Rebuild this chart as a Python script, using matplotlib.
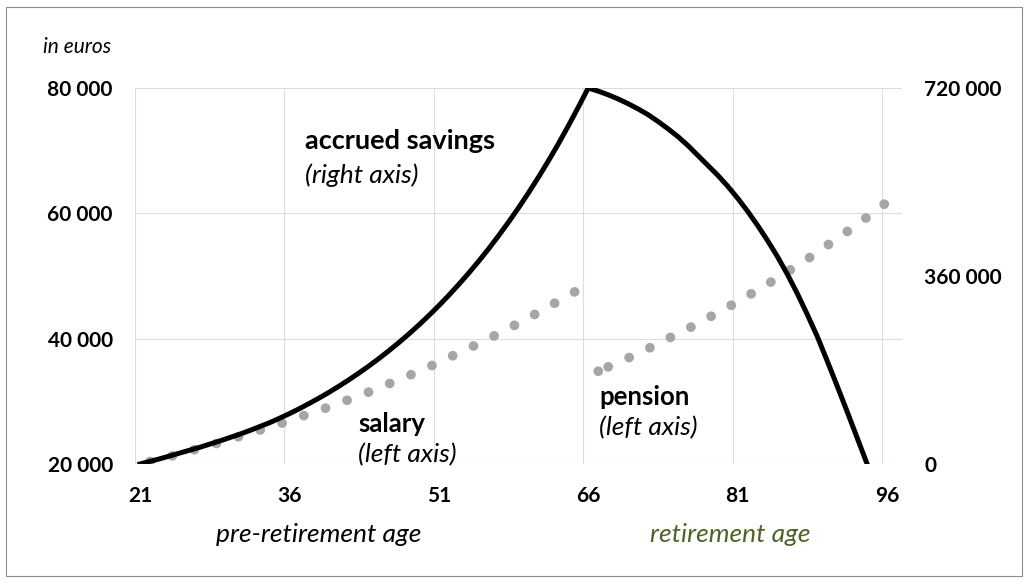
import matplotlib.pyplot as plt
from matplotlib.patches import Rectangle
from matplotlib.ticker import FuncFormatter

plt.rcParams['font.family'] = ['Lato', 'DejaVu Sans']

# ages
salary_ages = list(range(22, 66))
pension_ages = list(range(67, 97))
savings_ages = list(range(21, 95))

# salary, euros per year (left axis)
salary = [20400, 20800, 21200, 21600, 22100, 22500, 23000, 23400, 23900, 24400,
          24900, 25400, 25900, 26400, 26900, 27500, 28000, 28600, 29100, 29700,
          30300, 30900, 31500, 32200, 32800, 33500, 34100, 34800, 35500, 36200,
          37000, 37700, 38500, 39200, 40000, 40800, 41600, 42500, 43300, 44200,
          45100, 46000, 46900, 47800]

# pension, euros per year (left axis)
pension = [34800, 35500, 36200, 36900, 37700, 38400, 39200, 40000, 40800, 41600,
           42400, 43300, 44100, 45000, 45900, 46800, 47800, 48700, 49700, 50700,
           51700, 52700, 53800, 54900, 56000, 57100, 58200, 59400, 60600, 61800]

# accrued savings, euros (right axis)
savings = [0, 5000, 10000, 15500, 21000, 26500, 32000, 38000, 44000, 50500,
           57000, 64000, 71500, 79000, 87500, 96400, 105900, 116000, 126500, 137600,
           149300, 161600, 174500, 188000, 202200, 217100, 232700, 249100, 266300, 284300,
           303200, 323000, 343800, 365500, 388300, 412100, 437100, 463200, 490500, 519100,
           549100, 580400, 613100, 647400, 683200, 720000, 714000, 707000, 699000, 690000,
           680000, 669000, 656000, 642000, 627000, 610000, 591000, 572000, 553000, 532000,
           509000, 484000, 457000, 428000, 397000, 363000, 326000, 286000, 244000, 197000,
           149000, 100000, 50000, 0]

x_labels = [21, 36, 51, 66, 81, 96]
left_ticks = [20000, 40000, 60000, 80000]
right_ticks = [0, 360000, 720000]

W, H = 1029, 583
fig = plt.figure(figsize=(W / 100, H / 100), dpi=100)
ax = fig.add_axes([135 / W, 1 - 464 / H, (902 - 135) / W, (464 - 88) / H])
ax2 = ax.twinx()


def px(x, y):
    return x / W, 1 - y / H


def spaced(v, pos):
    return f"{v:,.0f}".replace(",", " ")


grey_dots = dict(color='#a6a6a6', linewidth=7.0, linestyle=(0, (0.01, 2.35)),
                 dash_capstyle='round', zorder=3)
ax.plot(salary_ages, salary, **grey_dots)
# first pension year on its own so the dot pattern restarts at 68
ax.plot(pension_ages[:2], pension[:2], **grey_dots)
ax.plot(pension_ages[1:], pension[1:], **grey_dots)

ax2.plot(savings_ages, savings, color='black', linewidth=3.6,
         solid_joinstyle='miter', zorder=4)

ax.set_xlim(20.5, 97.5)
ax.set_ylim(20000, 80000)
ax2.set_ylim(0, 720000)

ax.set_xticks(x_labels)
ax.set_xticks([a - 0.5 for a in x_labels], minor=True)
ax.set_yticks(left_ticks)
ax2.set_yticks(right_ticks)
ax.yaxis.set_major_formatter(FuncFormatter(spaced))
ax2.yaxis.set_major_formatter(FuncFormatter(spaced))

ax.grid(axis='y', which='major', color='#dcdcdc', linewidth=0.8)
ax.grid(axis='x', which='minor', color='#dcdcdc', linewidth=0.8)
ax.set_axisbelow(True)

for a in (ax, ax2):
    for s in a.spines.values():
        s.set_visible(False)

ax.tick_params(axis='x', which='both', length=0, pad=16, labelsize=15)
ax.tick_params(axis='y', length=0, pad=16, labelsize=15)
ax2.tick_params(axis='y', length=0, pad=16, labelsize=15)
for lab in ax.get_xticklabels() + ax.get_yticklabels() + ax2.get_yticklabels():
    lab.set_fontweight('bold')

# annotations
fig.text(*px(43, 47), 'in euros', fontsize=15, style='italic', va='center')
fig.text(*px(305, 141), 'accrued savings', fontsize=19.5, fontweight='bold', va='center')
fig.text(*px(305, 175), '(right axis)', fontsize=19, style='italic', va='center')
fig.text(*px(358, 424), 'salary', fontsize=18.5, fontweight='bold', va='center')
fig.text(*px(358, 455), '(left axis)', fontsize=19, style='italic', va='center')
fig.text(*px(599, 397), 'pension', fontsize=18.5, fontweight='bold', va='center')
fig.text(*px(599, 428), '(left axis)', fontsize=19, style='italic', va='center')
fig.text(*px(319, 535), 'pre-retirement age', fontsize=19, style='italic',
         ha='center', va='center')
fig.text(*px(730, 535), 'retirement age', fontsize=19, style='italic',
         ha='center', va='center', color='#4f6228')

# outer frame
fig.patches.append(Rectangle(px(6, 576), (1022 - 6) / W, (576 - 7) / H,
                             transform=fig.transFigure, fill=False,
                             edgecolor='#8c8c8c', linewidth=0.8))

fig.savefig('out.png', dpi=100)
